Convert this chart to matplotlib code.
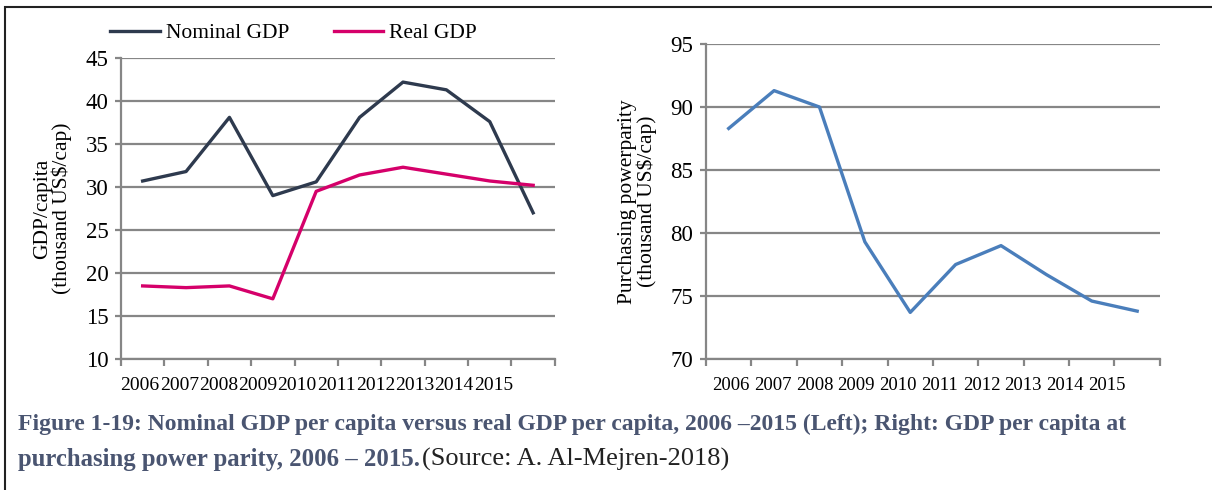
import numpy as np
import matplotlib.pyplot as plt
from matplotlib.patches import Rectangle

years = ["2006", "2007", "2008", "2009", "2010", "2011", "2012", "2013", "2014", "2015"]
nominal_gdp = [30.7, 31.8, 38.1, 29.0, 30.6, 38.1, 42.2, 41.3, 37.6, 27.0]
real_gdp = [18.5, 18.3, 18.5, 17.0, 29.5, 31.4, 32.3, 31.5, 30.7, 30.2]
ppp = [88.3, 91.3, 90.0, 79.3, 73.7, 77.5, 79.0, 76.7, 74.6, 73.8]

plt.rcParams['font.family'] = ['Liberation Serif', 'DejaVu Serif']

grid_col = "#868686"
caption_col = "#4a5571"

fig = plt.figure(figsize=(12.12, 4.9), dpi=100)

# frame around the figure (top and left visible)
fig.patches.append(Rectangle((5 / 1212, -0.1), 1.2, 1 - 7 / 490 + 0.1,
                             transform=fig.transFigure, fill=False,
                             edgecolor="#222222", linewidth=1.5))

ax1 = fig.add_axes([0.0998, 0.2673, 0.358, 0.6143])
ax2 = fig.add_axes([0.5825, 0.2673, 0.3745, 0.6429])


def style_axis(ax, ylo, yhi, label_start, label_step, xfs):
    x = np.arange(len(years))
    ax.set_xlim(-0.5, len(years) - 0.5)
    ax.set_ylim(ylo, yhi)
    ax.set_yticks(np.arange(ylo, yhi + 1, 5))
    ax.yaxis.grid(True, color=grid_col, linewidth=1.6)
    ax.set_axisbelow(True)
    for s in ["top", "right"]:
        ax.spines[s].set_visible(False)
    for s in ["left", "bottom"]:
        ax.spines[s].set_color(grid_col)
        ax.spines[s].set_linewidth(1.6)
    ax.set_xticks(np.arange(-0.5, len(years), 1.0))
    ax.set_xticklabels([])
    ax.set_xticks(label_start + label_step * x, minor=True)
    ax.set_xticklabels(years, minor=True, fontsize=xfs)
    ax.tick_params(axis="x", which="major", length=5, width=1.6, color=grid_col)
    ax.tick_params(axis="x", which="minor", length=0, pad=13)
    ax.tick_params(axis="y", length=4, width=1.6, color=grid_col, labelsize=16.5, pad=5)
    return x


x = style_axis(ax1, 10, 45, -0.06, 0.905, 14)
ax1.plot(x, nominal_gdp, color="#2e3a4e", linewidth=2.4, label="Nominal GDP")
ax1.plot(x, real_gdp, color="#d5006a", linewidth=2.4, label="Real GDP")
ax1.set_ylabel("GDP/capita\n(thousand US$/cap)", fontsize=15.5, linespacing=0.95, labelpad=10)
ax1.legend(loc="lower left", bbox_to_anchor=(-0.045, 1.02), ncol=2, frameon=False,
           fontsize=15.5, handlelength=2.3, handletextpad=0.3, columnspacing=2.05,
           borderaxespad=0)

x = style_axis(ax2, 70, 95, 0.05, 0.92, 13.5)
ax2.plot(x, ppp, color="#4a7ebb", linewidth=2.4)
ax2.set_ylabel("Purchasing powerparity\n(thousand US$/cap)", fontsize=15.5, linespacing=0.95, labelpad=10)

fig.text(18 / 1212, 1 - 424 / 490,
         "Figure 1-19: Nominal GDP per capita versus real GDP per capita, 2006 \u20132015 (Left); Right: GDP per capita at",
         fontsize=17, fontweight="bold", color=caption_col, va="center", ha="left")
t = fig.text(18 / 1212, 1 - 459 / 490, "purchasing power parity, 2006 \u2013 2015.",
             fontsize=17.8, fontweight="bold", color=caption_col, va="center", ha="left")
fig.canvas.draw()
bb = t.get_window_extent()
fig.text(bb.x1 / 1212 + 0.002, 1 - 459 / 490, "(Source: A. Al-Mejren-2018)",
         fontsize=19, color="#222222", va="center", ha="left")

fig.savefig("out.png", dpi=100)
